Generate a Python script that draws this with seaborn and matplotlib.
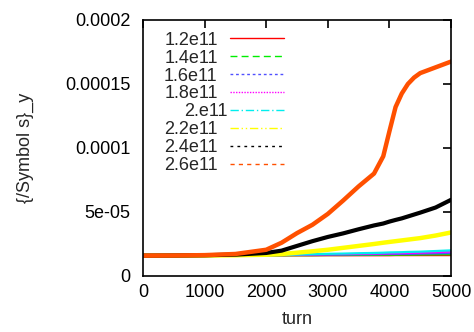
import matplotlib
matplotlib.use("Agg")
import matplotlib.pyplot as plt
import seaborn as sns
import pandas as pd

# ---- data ----
turns = [0, 500, 1000, 1500, 2000, 2250, 2500, 2750, 3000, 3250, 3500,
         3750, 3900, 4000, 4100, 4200, 4300, 4400, 4500, 4750, 5000]

labels = ["1.2e11", "1.4e11", "1.6e11", "1.8e11", "2.e11", "2.2e11", "2.4e11", "2.6e11"]

# values in units of 1e-5
s_12 = [1.59, 1.59, 1.59, 1.59, 1.60, 1.60, 1.60, 1.60, 1.61, 1.61, 1.61,
        1.61, 1.61, 1.61, 1.62, 1.62, 1.62, 1.62, 1.62, 1.62, 1.62]
s_14 = [1.59, 1.59, 1.59, 1.60, 1.61, 1.61, 1.62, 1.62, 1.63, 1.63, 1.64,
        1.64, 1.65, 1.65, 1.65, 1.66, 1.66, 1.66, 1.67, 1.68, 1.69]
s_16 = [1.59, 1.59, 1.60, 1.60, 1.62, 1.63, 1.64, 1.65, 1.66, 1.67, 1.68,
        1.69, 1.70, 1.71, 1.71, 1.72, 1.72, 1.73, 1.74, 1.76, 1.78]
s_18 = [1.59, 1.59, 1.60, 1.61, 1.63, 1.64, 1.65, 1.67, 1.69, 1.70, 1.72,
        1.74, 1.75, 1.76, 1.77, 1.78, 1.79, 1.80, 1.81, 1.85, 1.90]
s_20 = [1.59, 1.59, 1.60, 1.61, 1.63, 1.65, 1.67, 1.70, 1.73, 1.75, 1.78,
        1.80, 1.82, 1.84, 1.85, 1.86, 1.88, 1.89, 1.90, 1.95, 2.00]
s_22 = [1.59, 1.59, 1.60, 1.62, 1.66, 1.72, 1.82, 1.93, 2.05, 2.20, 2.35,
        2.50, 2.60, 2.66, 2.72, 2.78, 2.84, 2.90, 2.96, 3.16, 3.40]
s_24 = [1.59, 1.60, 1.62, 1.67, 1.80, 1.98, 2.35, 2.72, 3.05, 3.33, 3.65,
        3.95, 4.10, 4.25, 4.38, 4.50, 4.65, 4.80, 4.95, 5.35, 5.95]
s_26 = [1.59, 1.60, 1.63, 1.72, 2.05, 2.60, 3.35, 4.00, 4.85, 5.90, 7.00,
        8.00, 9.35, 11.3, 13.2, 14.25, 15.0, 15.5, 15.85, 16.3, 16.75]

series = [s_12, s_14, s_16, s_18, s_20, s_22, s_24, s_26]
colors = ["#ff0000", "#00ee00", "#5050ff", "#ff00ff", "#00eeee", "#ffff00", "#000000", "#ff5000"]
styles = ["-", (0, (5, 3)), (0, (2, 2)), (0, (1, 1)), (0, (6, 2, 1, 2)),
          (0, (6, 2, 1, 2, 1, 2)), (0, (2, 3)), (0, (3, 3))]
widths = [1.4, 1.4, 1.4, 1.4, 1.6, 3.2, 3.0, 3.2]

FS = 13

sns.set_style("white")
plt.rcParams["font.family"] = ["Liberation Sans", "DejaVu Sans"]

fig = plt.figure(figsize=(4.74, 3.32), dpi=100)
ax = fig.add_axes([0.3017, 0.1687, 0.6498, 0.7711])

for lab, vals, c, lw in zip(labels, series, colors, widths):
    df = pd.DataFrame({"turn": turns, "v": [v * 1e-5 for v in vals]})
    sns.lineplot(data=df, x="turn", y="v", ax=ax, color=c, linestyle="-",
                 linewidth=lw, label=lab)

ax.set_xlim(0, 5000)
ax.set_ylim(0, 0.0002)
ax.set_xticks([0, 1000, 2000, 3000, 4000, 5000])
ax.set_yticks([0, 0.00005, 0.0001, 0.00015, 0.0002])
ax.set_yticklabels(["0", "5e-05", "0.0001", "0.00015", "0.0002"])
ax.set_xticklabels(["0", "1000", "2000", "3000", "4000", "5000"])
ax.tick_params(direction="in", length=6, width=1.2, top=True, right=True,
               labelsize=FS, colors="black")
ax.tick_params(axis="x", pad=6)
ax.tick_params(axis="y", pad=9)
for sp in ax.spines.values():
    sp.set_linewidth(1.2)
    sp.set_color("black")
ax.set_xlabel("turn", fontsize=FS)
ax.set_ylabel("{/Symbol s}_y", fontsize=FS)
ax.xaxis.set_label_coords(0.5, -0.135)
ax.yaxis.set_label_coords(-0.355, 0.5)

leg = ax.legend(loc="upper left", bbox_to_anchor=(0.03, 1.0), frameon=False,
                markerfirst=False, fontsize=FS, handlelength=3.0,
                handletextpad=0.7, labelspacing=0.05, borderaxespad=0.25)
for h, ls in zip(leg.get_lines(), styles):
    h.set_linewidth(1.0)
    h.set_linestyle(ls)
fig.canvas.draw()
texts = leg.get_texts()
wmax = max(t.get_window_extent().width for t in texts)
for t in texts:
    w = t.get_window_extent().width
    t.set_position((wmax - w, 0))

fig.savefig("out.png", dpi=100)
